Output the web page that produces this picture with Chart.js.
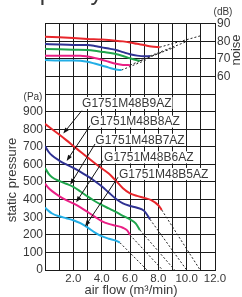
<!DOCTYPE html>
<html><head><meta charset="utf-8">
<script src="https://cdn.jsdelivr.net/npm/chart.js@4"></script>
<style>html,body{margin:0;padding:0;background:#fff;overflow:hidden}#wrap{position:relative;width:242px;height:297px}</style>
</head><body><div id="wrap"><canvas id="c" width="242" height="297"></canvas></div>
<script>
// ---- data ----
const models = ['G1751M48B9AZ','G1751M48B8AZ','G1751M48B7AZ','G1751M48B6AZ','G1751M48B5AZ'];
const flowB9 = [0,0.5,1,1.5,2,2.5,3,3.5,4,4.5,5,5.5,6,6.5,7,7.5,8,8.24];
const pressureB9 = [830,800,770,738,705,672,640,608,578,548,508,465,436,421,410,397,368,341];
const flowB8 = [0,0.25,0.5,1,1.5,2,2.5,3,3.5,4,4.5,5,5.5,6,6.5,7,7.41];
const pressureB8 = [705,672,650,622,600,580,558,533,506,476,440,405,378,364,354,336,288];
const flowB7 = [0,0.25,0.5,1,1.5,2,2.5,3,3.5,4,4.5,5,5.5,6,6.4,6.7];
const pressureB7 = [580,548,527,506,490,472,446,418,392,370,350,330,308,288,265,227];
const flowB6 = [0,0.25,0.5,1,1.5,2,2.5,3,3.5,4,4.5,5,5.5,5.8,6.0];
const pressureB6 = [490,466,448,420,397,378,356,330,303,278,262,252,240,225,199];
const flowB5 = [0,0.25,0.5,1,1.5,2,2.5,3,3.5,4,4.5,5,5.29];
const pressureB5 = [355,336,321,305,294,283,266,242,214,192,178,167,155];
const freeAirFlow = [10.95,10.0,9.15,8.3,7.2];

const noiseFlowB9 = [0,1,2,3,4,5,5.5,6,6.5,7,7.5,8.1];
const noiseB9 = [82.6,82.2,81.8,81.3,80.9,80.3,79.9,79.3,78.5,77.8,77.0,76.6];
const noiseFlowB8 = [0,1,2,3,3.5,4,4.5,5,5.5,6,6.5,7,7.41];
const noiseB8 = [78.4,78.1,77.9,77.8,77.3,76.5,75.8,75.0,73.8,72.6,71.8,71.4,71.6];
const noiseFlowB7 = [0,1,2,3,3.5,4,4.5,5,5.5,6,6.5,6.7];
const noiseB7 = [75.6,75.4,75.2,75.0,74.6,74.0,73.4,72.7,71.6,70.3,69.2,68.9];
const noiseFlowB6 = [0,1,2,2.5,3,3.5,4,4.5,5,5.5,6.0];
const noiseB6 = [71.8,71.7,71.8,71.8,71.3,70.5,69.5,68.3,67.2,66.5,66.4];
const noiseFlowB5 = [0,1,2,2.5,3,3.5,4,4.5,5,5.4];
const noiseB5 = [69.3,69.1,69.1,68.9,68.3,67.3,66.2,65.0,63.9,63.6];
const freeAirNoise = [83.0,79.8,76.5,74.0,69.5];

const pressureTicks = [0,100,200,300,400,500,600,700,800,900];
const noiseTicks = [60,70,80,90];
const flowTicks = [2,4,6,8,10,12];

// ---- presentation ----
const colors = ['#e8262b','#2e3192','#1ea54c','#ea1f85','#22aee6'];
const flows = [flowB9,flowB8,flowB7,flowB6,flowB5];
const pressures = [pressureB9,pressureB8,pressureB7,pressureB6,pressureB5];
const nFlows = [noiseFlowB9,noiseFlowB8,noiseFlowB7,noiseFlowB6,noiseFlowB5];
const noises = [noiseB9,noiseB8,noiseB7,noiseB6,noiseB5];
// label anchor (text left, middle) and arrow from/to, in data units (flow, Pa)
const labelPos = [[2.62,949],[3.2,843],[3.55,740],[4.17,640],[5.22,546]];
const arrowFrom = [[2.59,905],[3.18,820],[3.53,716],[4.11,622],[5.15,527]];
const arrowTo = [[1.29,775],[1.53,620],[1.78,485],[2.2,385],[2.83,247]];

const pts = (xs, ys) => xs.map((v,i)=>({x:v,y:ys[i]}));
const datasets = [];
models.forEach((m,i)=>{
  datasets.push({label:m, data:pts(flows[i],pressures[i]), yAxisID:'y', borderColor:colors[i], borderWidth:2, cubicInterpolationMode:'monotone'});
  const f = flows[i], p = pressures[i];
  datasets.push({label:m+' ext', data:[{x:f[f.length-1],y:p[p.length-1]},{x:freeAirFlow[i],y:0}], yAxisID:'y', borderColor:'#222', borderWidth:1, borderDash:[2,2]});
  datasets.push({label:m+' noise', data:pts(nFlows[i],noises[i]), yAxisID:'yN', borderColor:colors[i], borderWidth:2, cubicInterpolationMode:'monotone'});
  const nf = nFlows[i], n = noises[i];
  datasets.push({label:m+' noise ext', data:[{x:nf[nf.length-1],y:n[n.length-1]},{x:freeAirFlow[i],y:freeAirNoise[i]}], yAxisID:'yN', borderColor:'#222', borderWidth:1, borderDash:[2,2]});
});

const TXT = '#383838';
const NARROW = '"Liberation Sans Narrow", "Liberation Sans", Arial, sans-serif';
const REG = '"Liberation Sans", Arial, sans-serif';

const annot = {
  id:'annot',
  afterDatasetsDraw(chart){
    const {ctx, scales:{x,y,yN}, chartArea:ca} = chart;
    ctx.save();
    // model labels
    ctx.font = '12px ' + REG;
    ctx.textBaseline = 'middle';
    ctx.textAlign = 'left';
    models.forEach((m,i)=>{
      const lx = x.getPixelForValue(labelPos[i][0]), ly = y.getPixelForValue(labelPos[i][1]);
      const w = ctx.measureText(m).width;
      ctx.fillStyle = '#fff'; ctx.fillRect(lx-1, ly-6, w+2, 12);
      ctx.fillStyle = TXT; ctx.fillText(m, lx, ly+0.5);
    });
    // arrows
    ctx.strokeStyle = '#111'; ctx.fillStyle = '#111'; ctx.lineWidth = 1;
    models.forEach((m,i)=>{
      const x0 = x.getPixelForValue(arrowFrom[i][0]), y0 = y.getPixelForValue(arrowFrom[i][1]);
      const x1 = x.getPixelForValue(arrowTo[i][0]), y1 = y.getPixelForValue(arrowTo[i][1]);
      const a = Math.atan2(y1-y0, x1-x0);
      ctx.beginPath(); ctx.moveTo(x0,y0); ctx.lineTo(x1 - 3*Math.cos(a), y1 - 3*Math.sin(a)); ctx.stroke();
      ctx.beginPath();
      ctx.moveTo(x1,y1);
      ctx.lineTo(x1 - 6*Math.cos(a) + 2.2*Math.sin(a), y1 - 6*Math.sin(a) - 2.2*Math.cos(a));
      ctx.lineTo(x1 - 6*Math.cos(a) - 2.2*Math.sin(a), y1 - 6*Math.sin(a) + 2.2*Math.cos(a));
      ctx.closePath(); ctx.fill();
    });
    ctx.restore();
  },
  afterDraw(chart){
    const {ctx, scales:{x,y,yN}, chartArea:ca} = chart;
    ctx.save();
    ctx.fillStyle = TXT;
    // cropped heading (only its descenders are inside the frame)
    ctx.font = '24px ' + REG; ctx.textBaseline = 'alphabetic'; ctx.textAlign = 'left';
    ctx.fillText('Capacity', 9, 0);
    // units
    ctx.font = '10px ' + NARROW; ctx.textAlign = 'center'; ctx.textBaseline = 'middle';
    ctx.fillText('(Pa)', 33, y.getPixelForValue(900) - 14);
    ctx.fillText('(dB)', 223, yN.getPixelForValue(90) - 11);
    // axis titles
    ctx.font = '13px ' + NARROW;
    ctx.fillText('air flow (m\u00b3/min)', 131, 290);
    ctx.save(); ctx.translate(12, 180); ctx.rotate(-Math.PI/2); ctx.fillText('static pressure', 0, 0); ctx.restore();
    ctx.save(); ctx.translate(236, 50); ctx.rotate(-Math.PI/2); ctx.fillText('noise', 0, 0); ctx.restore();
    ctx.restore();
  }
};

const GRID = '#1a1a1a';
new Chart(document.getElementById('c'), {
  type:'line',
  data:{datasets},
  options:{
    responsive:false, animation:false, devicePixelRatio:1,
    layout:{padding:{top:23.6,left:0,right:0,bottom:0}},
    elements:{point:{radius:0}},
    plugins:{legend:{display:false}, tooltip:{enabled:false}},
    scales:{
      x:{type:'linear', position:'bottom', min:0, max:12,
        ticks:{stepSize:1, autoSkip:false, maxRotation:0, padding:2, color:TXT, font:{family:NARROW, size:11.5},
          callback:v => flowTicks.includes(v) ? v.toFixed(1) : ''},
        grid:{color:GRID, lineWidth:1, drawTicks:false}, border:{color:GRID},
        afterFit:s=>{s.height = 27;}},
      y:{position:'left', min:0, max:1400,
        ticks:{stepSize:100, autoSkip:false, padding:2, color:TXT, font:{family:NARROW, size:12},
          callback:v => pressureTicks.includes(v) ? String(v) : ''},
        grid:{color:GRID, lineWidth:1, drawTicks:false}, border:{color:GRID},
        afterFit:s=>{s.width = 45;}},
      yN:{position:'right', min:-50, max:90,
        ticks:{stepSize:10, autoSkip:false, padding:2, color:TXT, font:{family:NARROW, size:12},
          callback:v => noiseTicks.includes(v) ? String(v) : ''},
        grid:{display:true, drawOnChartArea:false, drawTicks:false}, border:{color:GRID},
        afterFit:s=>{s.width = 27;}}
    }
  },
  plugins:[annot]
});
</script></body></html>
